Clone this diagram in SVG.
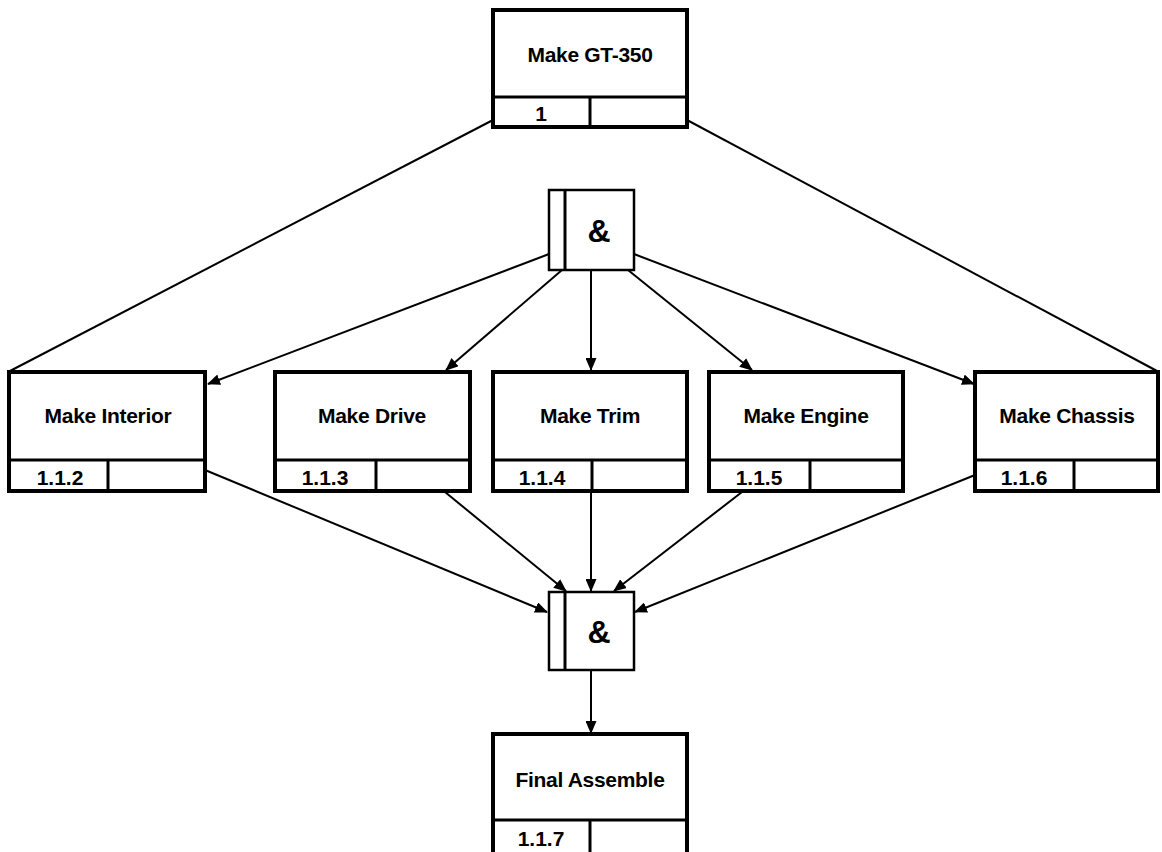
<svg xmlns="http://www.w3.org/2000/svg" width="1162" height="852" viewBox="0 0 1162 852">
<style>
.box{fill:#fff;stroke:#000;stroke-width:4}
.div{stroke:#000;stroke-width:3;fill:none}
.gate{fill:#fff;stroke:#000;stroke-width:2.5}
.t{font-family:"Liberation Sans",Arial,sans-serif;font-weight:bold;font-size:21px;fill:#000;text-anchor:middle;letter-spacing:-0.3px}
.n{font-family:"Liberation Sans",Arial,sans-serif;font-weight:bold;font-size:21px;fill:#000;text-anchor:middle}
.amp{font-family:"Liberation Sans",Arial,sans-serif;font-weight:bold;font-size:32px;fill:#000;text-anchor:middle}
.c{stroke:#000;stroke-width:2;fill:none}
.a{marker-end:url(#ah)}
</style>
<defs>
<marker id="ah" markerWidth="13" markerHeight="11" refX="12" refY="5.5" orient="auto" markerUnits="userSpaceOnUse">
<path d="M0,0 L13,5.5 L0,11 Z" fill="#000"/>
</marker>
</defs>
<rect width="1162" height="852" fill="#fff"/>
<g id="connectors">
<line class="c" x1="493" y1="120" x2="10" y2="371"/>
<line class="c" x1="687" y1="120" x2="1157" y2="371"/>
<line class="c a" x1="549" y1="254" x2="208" y2="384"/>
<line class="c a" x1="562" y1="270" x2="446" y2="370"/>
<line class="c a" x1="591" y1="270" x2="591" y2="370"/>
<line class="c a" x1="628" y1="270" x2="752" y2="370"/>
<line class="c a" x1="634" y1="254" x2="974" y2="384"/>
<line class="c a" x1="205" y1="470" x2="547" y2="612"/>
<line class="c a" x1="445" y1="492" x2="566" y2="591"/>
<line class="c a" x1="591" y1="492" x2="591" y2="591"/>
<line class="c a" x1="742" y1="492" x2="614" y2="591"/>
<line class="c a" x1="975" y1="475" x2="635" y2="612"/>
<line class="c a" x1="591" y1="670" x2="591" y2="733"/>
</g>
<g id="make-gt350">
<rect class="box" x="493" y="10" width="194" height="117"/>
<line class="div" x1="493" y1="97" x2="687" y2="97"/>
<line class="div" x1="590" y1="97" x2="590" y2="127"/>
<text class="t" x="590" y="62">Make GT-350</text>
<text class="n" x="541" y="121">1</text>
</g>
<g id="and-split">
<rect class="gate" x="549" y="190" width="85" height="80"/>
<line class="div" x1="565" y1="190" x2="565" y2="270" stroke-width="2"/>
<text class="amp" x="599" y="242">&amp;</text>
</g>
<g id="make-interior">
<rect class="box" x="9" y="372" width="196" height="119"/>
<line class="div" x1="9" y1="460" x2="205" y2="460"/>
<line class="div" x1="108" y1="460" x2="108" y2="491"/>
<text class="t" x="108" y="423">Make Interior</text>
<text class="n" x="60" y="485">1.1.2</text>
</g>
<g id="make-drive">
<rect class="box" x="275" y="372" width="195" height="119"/>
<line class="div" x1="275" y1="460" x2="470" y2="460"/>
<line class="div" x1="376" y1="460" x2="376" y2="491"/>
<text class="t" x="372" y="423">Make Drive</text>
<text class="n" x="325" y="485">1.1.3</text>
</g>
<g id="make-trim">
<rect class="box" x="493" y="372" width="194" height="119"/>
<line class="div" x1="493" y1="460" x2="687" y2="460"/>
<line class="div" x1="592" y1="460" x2="592" y2="491"/>
<text class="t" x="590" y="423">Make Trim</text>
<text class="n" x="542" y="485">1.1.4</text>
</g>
<g id="make-engine">
<rect class="box" x="709" y="372" width="194" height="119"/>
<line class="div" x1="709" y1="460" x2="903" y2="460"/>
<line class="div" x1="810" y1="460" x2="810" y2="491"/>
<text class="t" x="806" y="423">Make Engine</text>
<text class="n" x="759" y="485">1.1.5</text>
</g>
<g id="make-chassis">
<rect class="box" x="975" y="372" width="183" height="119"/>
<line class="div" x1="975" y1="460" x2="1158" y2="460"/>
<line class="div" x1="1074" y1="460" x2="1074" y2="491"/>
<text class="t" x="1067" y="423">Make Chassis</text>
<text class="n" x="1024" y="485">1.1.6</text>
</g>
<g id="and-join">
<rect class="gate" x="549" y="592" width="85" height="78"/>
<line class="div" x1="565" y1="592" x2="565" y2="670" stroke-width="2"/>
<text class="amp" x="599" y="643">&amp;</text>
</g>
<g id="final-assemble">
<rect class="box" x="493" y="734" width="194" height="130"/>
<line class="div" x1="493" y1="820" x2="687" y2="820"/>
<line class="div" x1="590" y1="820" x2="590" y2="852"/>
<text class="t" x="590" y="787">Final Assemble</text>
<text class="n" x="541" y="846">1.1.7</text>
</g>
</svg>
